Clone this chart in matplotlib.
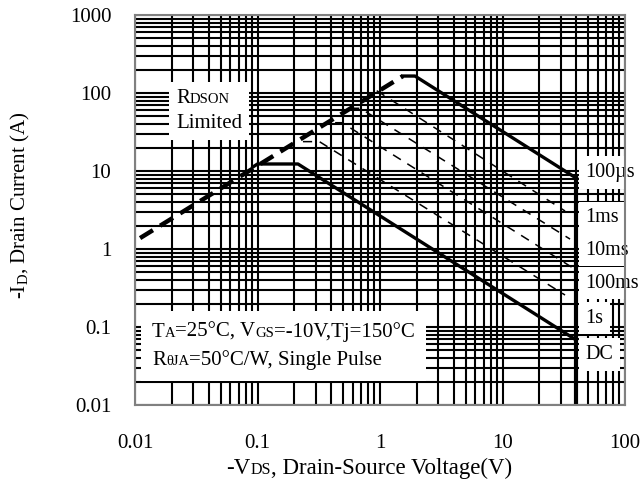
import matplotlib
matplotlib.use('Agg')
import matplotlib.pyplot as plt
from matplotlib.offsetbox import TextArea, HPacker, VPacker, AnnotationBbox

plt.rcParams['font.family'] = ['Liberation Serif', 'DejaVu Serif']
plt.rcParams['mathtext.fontset'] = 'custom'
plt.rcParams['mathtext.rm'] = 'Liberation Serif'

# safe operating area curves (V, A)
rdson_v = [0.011, 1.54]
rdson_i = [1.38, 165]

us100_v = [1.54, 1.93, 40]
us100_i = [165, 165, 8.1]
ms1_v = [0.94, 32.4]
ms1_i = [107, 3.07]
ms10_v = [0.57, 0.69, 35.6]
ms10_i = [63.7, 63.7, 1.34]
ms100_v = [0.43, 0.49, 37.7]
ms100_i = [41.6, 41.6, 0.57]
s1_v = [0.235, 0.32, 32.4]
s1_i = [23.8, 23.8, 0.257]
dc_v = [0.092, 0.1, 0.214, 40]
dc_i = [11.3, 12.3, 12.3, 0.068]

vmax_v = [40, 40]
vmax_i = [8.1, 0.01]

curve_labels = ['100\u00b5s', '1ms', '10ms', '100ms', '1s', 'DC']
label_y = [9.5, 2.5, 0.97, 0.366, 0.13, 0.044]

xticks = [0.01, 0.1, 1, 10, 100]
xtick_labels = ['0.01', '0.1', '1', '10', '100']
yticks = [0.01, 0.1, 1, 10, 100, 1000]
ytick_labels = ['0.01', '0.1', '1', '10', '100', '1000']

FS = 15
SM = 10.5

fig = plt.figure(figsize=(6.41, 4.86), dpi=100)
ax = fig.add_axes([135/641, 1-405/486, 490/641, 390/486])
ax.set_xscale('log')
ax.set_yscale('log')
ax.set_xlim(0.01, 100)
ax.set_ylim(0.01, 1000)
ax.set_axisbelow(True)

ax.grid(which='both', color='black', lw=1.5)
ax.set_xticks(xticks, xtick_labels)
ax.set_yticks(yticks, ytick_labels)
ax.tick_params(which='both', direction='in', length=5, width=1.3, labelsize=15)
ax.tick_params(axis='y', pad=17)
ax.tick_params(axis='x', pad=21)
ax.tick_params(which='minor', labelleft=False, labelbottom=False)
for s in ax.spines.values():
    s.set_color('#808080')
    s.set_linewidth(1.5)
    s.set_zorder(7)

# curves
ax.plot(rdson_v, rdson_i, color='black', lw=3.2, ls=(0, (3.4, 1.9)), solid_capstyle='butt')
ax.plot(us100_v, us100_i, color='black', lw=2.4)
ax.plot(dc_v, dc_i, color='black', lw=2.4)
for v, i in [(ms1_v, ms1_i), (ms10_v, ms10_i), (ms100_v, ms100_i), (s1_v, s1_i)]:
    ax.plot(v, i, color='black', lw=1.1, ls=(0, (6, 5)))
ax.plot(vmax_v, vmax_i, color='black', lw=3.0)

for lab, y in zip(curve_labels, label_y):
    ax.text(47.5, y, lab, fontsize=14.5, va='center', ha='left', clip_on=False,
            bbox=dict(facecolor='white', edgecolor='none', pad=5), zorder=6)


def rich(pieces):
    kids = [TextArea(s, textprops=dict(fontsize=f, family='Liberation Serif')) for s, f in pieces]
    return HPacker(children=kids, align='baseline', pad=0, sep=0)


rd_box = VPacker(children=[rich([('R', FS), ('DSON', SM)]), rich([('Limited', FS)])],
                 align='left', pad=0, sep=4)
ab = AnnotationBbox(rd_box, (0.0837, 0.81), xycoords='axes fraction', box_alignment=(0, 1),
                    frameon=True, pad=0.5, bboxprops=dict(facecolor='white', edgecolor='none'))
ab.set_zorder(6)
ax.add_artist(ab)

cond_box = VPacker(children=[
    rich([('T', FS), ('A', SM), ('=25\u00b0C, V', FS), ('GS', SM), ('=-10V,Tj=150\u00b0C', FS)]),
    rich([('R', FS), ('\u03b8JA', SM), ('=50\u00b0C/W, Single Pulse', FS)])],
    align='left', pad=0, sep=6)
ab2 = AnnotationBbox(cond_box, (0.0347, 0.213), xycoords='axes fraction', box_alignment=(0, 1),
                     frameon=True, pad=0.8, bboxprops=dict(facecolor='white', edgecolor='none'))
ab2.set_zorder(6)
ax.add_artist(ab2)

xlab = rich([('-V', 16.5), ('DS', 11.5), (', Drain-Source Voltage(V)', 16.5)])
ab3 = AnnotationBbox(xlab, (369, 18), xycoords='figure pixels', box_alignment=(0.5, 0.5),
                     frameon=False, pad=0)
fig.add_artist(ab3)

fig.text(20/641, 1-205/486, r'-I$_{\mathrm{D}}$, Drain Current (A)', rotation=90,
         ha='center', va='center', fontsize=FS)

fig.savefig('out.png', dpi=100)
